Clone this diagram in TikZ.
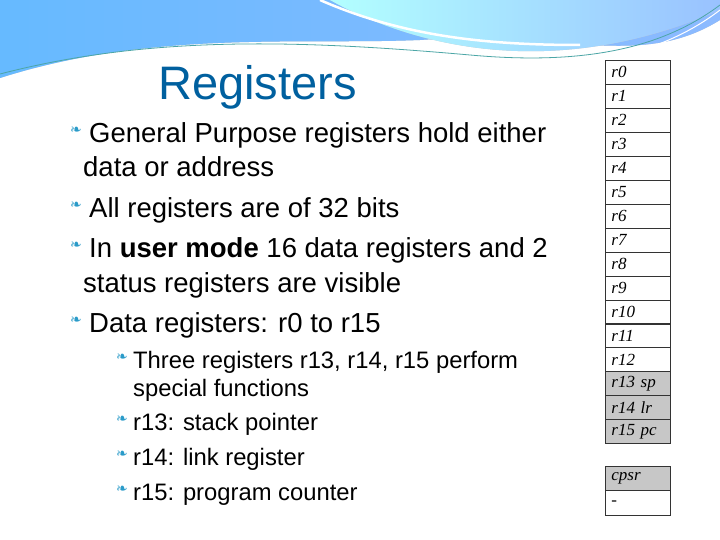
\documentclass[tikz,border=0pt]{standalone}
\usepackage{fontspec}
\setmainfont{Liberation Sans}
\newfontfamily\regfont{Liberation Serif}
\newfontfamily\symfont{DejaVu Sans}
\begin{document}
\begin{tikzpicture}[x=1pt,y=-1pt,
  reg/.style={draw=black!80,line width=0.8pt,minimum width=65pt,minimum height=24pt,anchor=north west,inner sep=0pt,font=\regfont\itshape\fontsize{17}{17}\selectfont,text width=53pt,align=left},
  shade/.style={fill=black!22},
  big/.style={anchor=base west,inner sep=0pt,font=\fontsize{27.5}{27.5}\selectfont},
  small/.style={anchor=base west,inner sep=0pt,font=\fontsize{23.8}{23.8}\selectfont},
  bul/.style={anchor=base west,inner sep=0pt,text=cyan!60!teal,font=\symfont\fontsize{14}{14}\selectfont}]
\useasboundingbox (0,0) rectangle (720,540);
\fill[white] (0,0) rectangle (720,540);
% header waves
\shade[left color=cyan!55!blue!60,right color=cyan!40!blue!45] (0,0) -- (720,0) -- (720,20) .. controls (640,70) and (560,30) .. (420,40) .. controls (300,45) and (150,30) .. (0,78) -- cycle;
\shade[left color=cyan!30,right color=cyan!40!blue!40] (330,0) .. controls (420,50) and (560,80) .. (720,10) -- (720,0) -- cycle;
\draw[white,line width=2.5pt] (320,0) .. controls (400,35) and (480,45) .. (580,45);
\draw[teal!70,line width=0.8pt] (0,74) .. controls (150,35) and (300,40) .. (470,55) .. controls (580,65) and (660,50) .. (720,5);
\draw[white,line width=1pt] (0,80) .. controls (150,42) and (300,47) .. (470,62) .. controls (580,72) and (660,56) .. (720,10);
% title
\node[anchor=base west,inner sep=0pt,text=teal!75!blue,font=\fontsize{47}{47}\selectfont] (title) at (158,100) {Registers};
% bullets
\node[bul] (b1) at (70,135) {❧};
\node[big] (t1) at (89,143) {General Purpose registers hold either};
\node[big] (t1b) at (83,177) {data or address};
\node[bul] (b2) at (70,210) {❧};
\node[big] (t2) at (89,218) {All registers are of 32 bits};
\node[bul] (b3) at (70,249) {❧};
\node[big] (t3) at (89,257) {In \textbf{user mode} 16 data registers and 2};
\node[big] (t3b) at (83,292) {status registers are visible};
\node[bul] (b4) at (70,324) {❧};
\node[big] (t4) at (89,332) {Data registers: r0 to r15};
\node[bul] (s1) at (116,361) {❧};
\node[small] (u1) at (133,368) {Three registers r13, r14, r15 perform};
\node[small] (u1b) at (133,396) {special functions};
\node[bul] (s2) at (116,423) {❧};
\node[small] (u2) at (133,430) {r13: stack pointer};
\node[bul] (s3) at (116,458) {❧};
\node[small] (u3) at (133,465) {r14: link register};
\node[bul] (s4) at (116,493) {❧};
\node[small] (u4) at (133,500) {r15: program counter};
% registers
\foreach \i/\t in {0/r0,1/r1,2/r2,3/r3,4/r4,5/r5,6/r6,7/r7,8/r8,9/r9,10/r10,11/r11,12/r12}
  \node[reg] (r\i) at (605,{60+\i*23.95}) {\t};
\node[reg,shade] (r13) at (605,{60+13*23.95}) {r13 sp};
\node[reg,shade] (r14) at (605,{60+14*23.95}) {r14 lr};
\node[reg,shade] (r15) at (605,{60+15*23.95}) {r15 pc};
\node[reg,shade] (cpsr) at (605,466) {cpsr};
\node[reg,minimum height=25pt] (spsr) at (605,490) {-};
\end{tikzpicture}
\end{document}
